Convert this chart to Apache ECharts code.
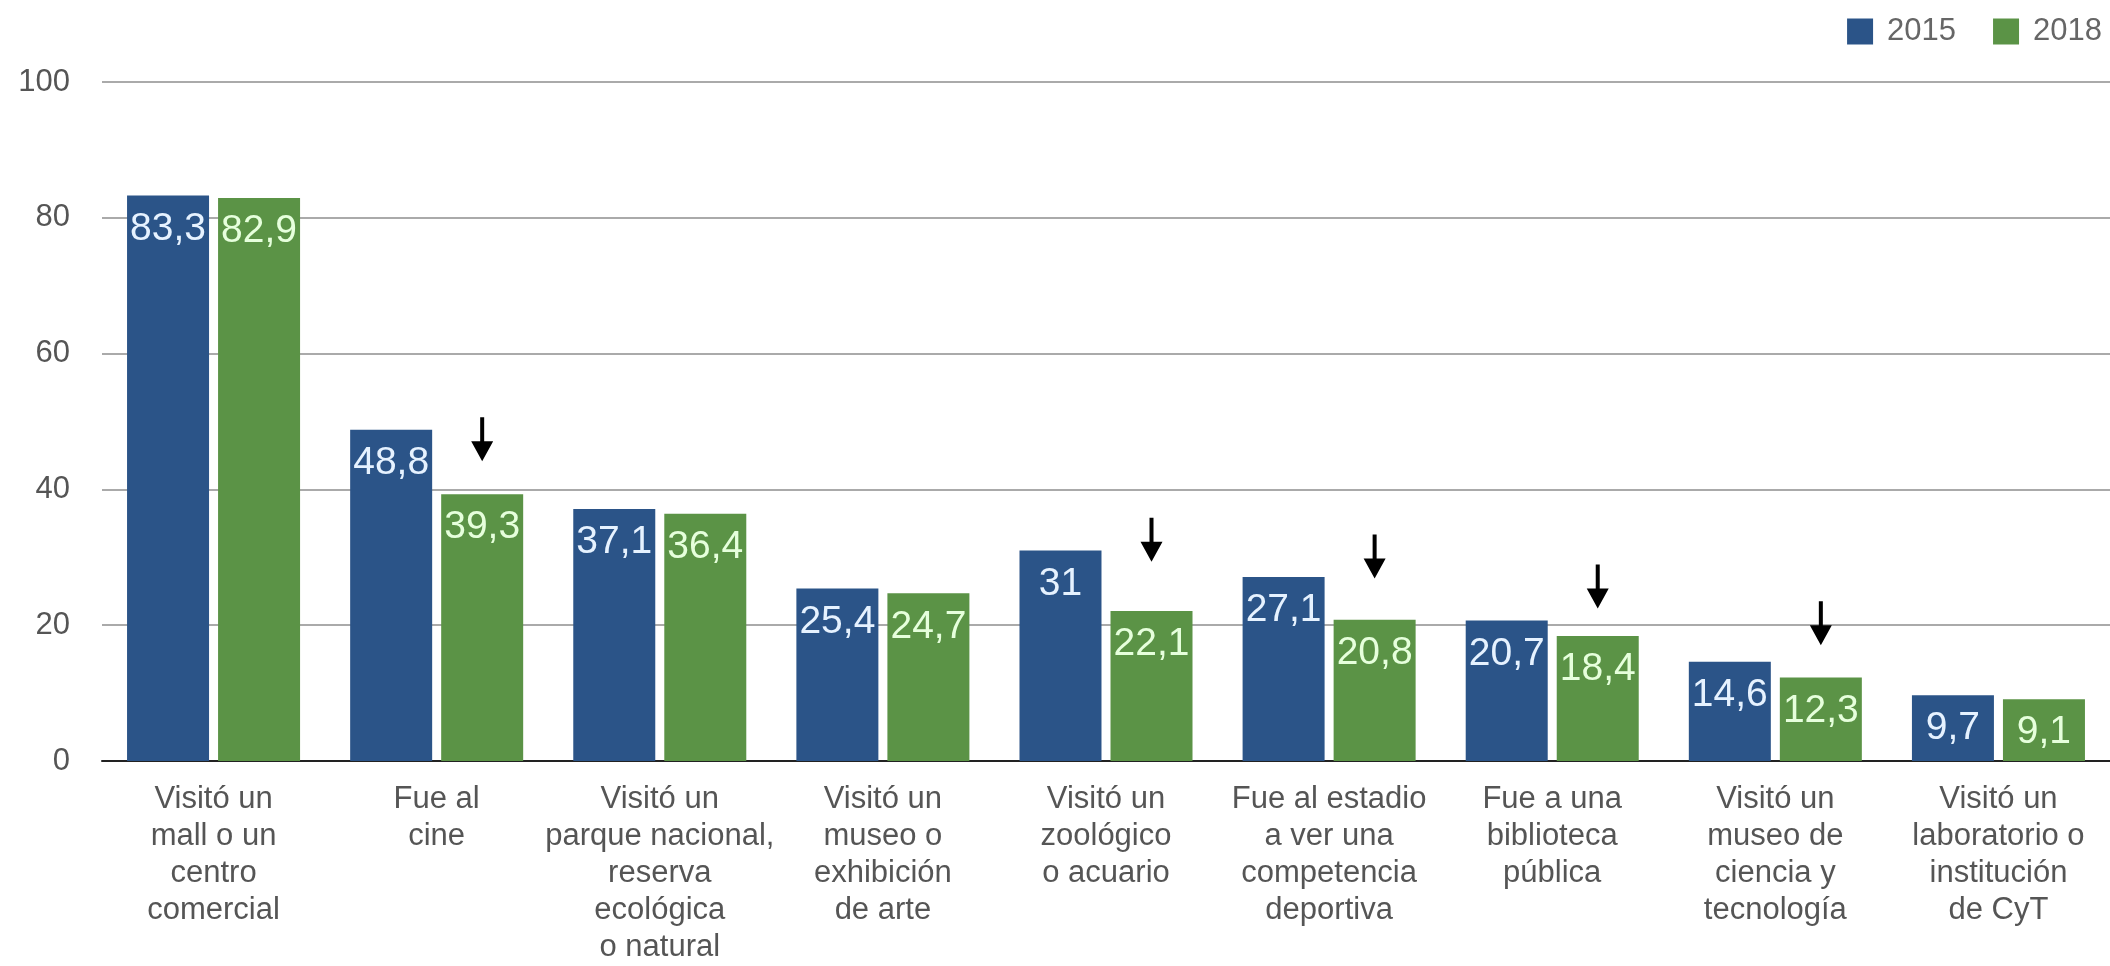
<!DOCTYPE html>
<html>
<head>
<meta charset="utf-8">
<script src="https://cdn.jsdelivr.net/npm/echarts@6/dist/echarts.min.js"></script>
<style>
  html, body { margin: 0; padding: 0; background: #fff; }
  #chart { width: 2110px; height: 966px; }
</style>
</head>
<body>
<div id="chart"></div>
<script>
const categories = [
  'Visitó un\nmall o un\ncentro\ncomercial',
  'Fue al\ncine',
  'Visitó un\nparque nacional,\nreserva\necológica\no natural',
  'Visitó un\nmuseo o\nexhibición\nde arte',
  'Visitó un\nzoológico\no acuario',
  'Fue al estadio\na ver una\ncompetencia\ndeportiva',
  'Fue a una\nbiblioteca\npública',
  'Visitó un\nmuseo de\nciencia y\ntecnología',
  'Visitó un\nlaboratorio o\ninstitución\nde CyT'
]
const values2015 = [83.3, 48.8, 37.1, 25.4, 31, 27.1, 20.7, 14.6, 9.7]
const values2018 = [82.9, 39.3, 36.4, 24.7, 22.1, 20.8, 18.4, 12.3, 9.1]
// flechas de descenso: [categoría, altura del centro de la flecha]
const arrows = [[1, 47.4], [4, 32.6], [5, 30.1], [6, 25.7], [7, 20.3]]

const fmt = p => String(p.value).replace('.', ',')
const arrowPath = 'path://M9,0 L13,0 L13,24 L22,24 L11,44 L0,24 L9,24 Z'

const chart = echarts.init(document.getElementById('chart'))

const option = {
  animation: false,
  textStyle: { fontFamily: 'Liberation Sans, Arial, sans-serif' },
  legend: {
    right: 3,
    top: 11,
    itemWidth: 26,
    itemHeight: 26,
    itemGap: 37,
    icon: 'rect',
    textStyle: { fontSize: 31, color: '#666', padding: [0, 0, 0, 9] },
    data: ['2015', '2018']
  },
  grid: { left: 102, right: 0, top: 82, bottom: 200, containLabel: false },
  xAxis: {
    type: 'category',
    data: categories,
    axisTick: { show: false },
    axisLine: { lineStyle: { color: '#222', width: 2 } },
    axisLabel: {
      interval: 0,
      margin: 20,
      fontSize: 31,
      lineHeight: 37,
      color: '#555',
      verticalAlign: 'top'
    }
  },
  yAxis: {
    type: 'value',
    min: 0,
    max: 100,
    interval: 20,
    axisLabel: { fontSize: 31, color: '#555', margin: 32 },
    splitLine: { lineStyle: { color: '#aaa', width: 2 } }
  },
  series: [
    {
      name: '2015',
      type: 'bar',
      data: values2015,
      barWidth: 82,
      barGap: '11%',
      itemStyle: { color: '#2b5488' },
      label: {
        show: true,
        position: 'insideTop',
        distance: 14,
        fontSize: 39,
        color: '#e6f2ff',
        formatter: fmt
      }
    },
    {
      name: '2018',
      type: 'bar',
      data: values2018,
      barWidth: 82,
      barGap: '11%',
      itemStyle: { color: '#5b9346' },
      label: {
        show: true,
        position: 'insideTop',
        distance: 14,
        fontSize: 39,
        color: '#e6ffdc',
        formatter: fmt
      },
      markPoint: {
        symbol: arrowPath,
        symbolSize: [22, 44],
        itemStyle: { color: '#000' },
        label: { show: false },
        data: arrows.map(a => ({ coord: a }))
      }
    }
  ]
}

chart.setOption(option)
</script>
</body>
</html>
